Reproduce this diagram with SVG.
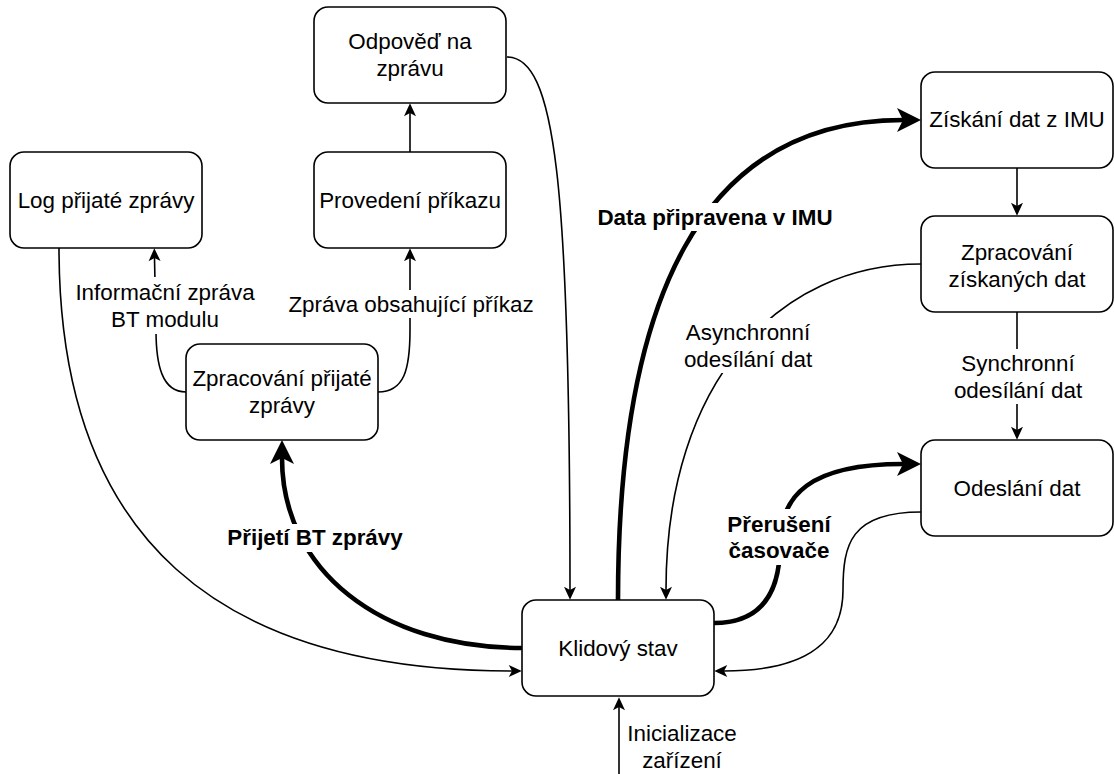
<svg xmlns="http://www.w3.org/2000/svg" width="1114" height="774" viewBox="0 0 1114 774">
  <style>
    .box { fill: #ffffff; stroke: #000000; stroke-width: 1.6; }
    .txt { font-family: "Liberation Sans", Arial, sans-serif; font-size: 22.4px; fill: #000000; text-anchor: middle; }
    .bold { font-weight: bold; }
    .edge { fill: none; stroke: #000000; stroke-width: 1.6; marker-end: url(#arrow); }
    .edge-thick { fill: none; stroke: #000000; stroke-width: 4.6; marker-end: url(#arrowBig); }
    .lbl-bg { fill: #ffffff; stroke: none; }
  </style>
  <defs>
    <marker id="arrow" markerUnits="userSpaceOnUse" orient="auto" refX="3.25" refY="0" markerWidth="14" markerHeight="14" overflow="visible">
      <path d="M0,-6 L13,0 L0,6 L3.25,0 Z" fill="#000000"/>
    </marker>
    <marker id="arrowBig" markerUnits="userSpaceOnUse" orient="auto" refX="6" refY="0" markerWidth="26" markerHeight="26" overflow="visible">
      <path d="M0,-12 L24,0 L0,12 L6,0 Z" fill="#000000"/>
    </marker>
  </defs>

  <rect width="1114" height="774" fill="#ffffff"/>

  <!-- connectors -->
  <g id="connectors">
    <path class="edge" d="M410,152 L410,113"/>
    <path class="edge" d="M378,392 C404,392 410,370 410,330 L410,258"/>
    <path class="edge" d="M186,392 C162,392 156,365 156,330 L154.5,258"/>
    <path class="edge" d="M507,57 C555,57 570,180 570,590"/>
    <path class="edge" d="M59,248 C59,540 220,671 512,671"/>
    <path class="edge" d="M921,264 C780,264 666,380 666,590"/>
    <path class="edge" d="M1017,311 L1017,430"/>
    <path class="edge" d="M1017,167 L1017,206"/>
    <path class="edge" d="M921,512 C850,512 843,545 843,590 C843,640 810,671 724,671"/>
    <path class="edge" d="M619,774 L619,707"/>
    <path class="edge-thick" d="M522,648 C380,648 282,570 282,458"/>
    <path class="edge-thick" d="M618,600 C618,300 700,120 903,120"/>
    <path class="edge-thick" d="M714,623 C760,623 780,595 780,545 C780,495 810,464 903,464"/>

    <!-- edge labels -->
    <rect class="lbl-bg" x="77" y="277" width="177" height="57"/>
    <text class="txt" x="165" y="299.5">Informační zpráva</text>
    <text class="txt" x="165" y="326.5">BT modulu</text>

    <rect class="lbl-bg" x="288" y="290" width="246" height="28"/>
    <text class="txt" x="411" y="312">Zpráva obsahující příkaz</text>

    <rect class="lbl-bg" x="684" y="318" width="128" height="55"/>
    <text class="txt" x="748" y="340">Asynchronní</text>
    <text class="txt" x="748" y="367">odesílání dat</text>

    <rect class="lbl-bg" x="954" y="349" width="128" height="55"/>
    <text class="txt" x="1018" y="371">Synchronní</text>
    <text class="txt" x="1018" y="398">odesílání dat</text>

    <rect class="lbl-bg" x="597" y="203" width="237" height="28"/>
    <text class="txt bold" x="715" y="225">Data připravena v IMU</text>

    <rect class="lbl-bg" x="226" y="524" width="178" height="28"/>
    <text class="txt bold" x="315" y="545">Přijetí BT zprávy</text>

    <rect class="lbl-bg" x="725" y="509" width="108" height="56"/>
    <text class="txt bold" x="779" y="531.5">Přerušení</text>
    <text class="txt bold" x="779" y="558">časovače</text>

    <text class="txt" x="682" y="741">Inicializace</text>
    <text class="txt" x="682" y="768">zařízení</text>
  </g>

  <!-- nodes -->
  <g id="log-prijate-zpravy">
    <rect class="box" x="10" y="152" width="192" height="96" rx="14"/>
    <text class="txt" x="106" y="207.5">Log přijaté zprávy</text>
  </g>
  <g id="odpoved-na-zpravu">
    <rect class="box" x="314" y="7" width="192" height="96" rx="14"/>
    <text class="txt" x="410" y="49">Odpověď na</text>
    <text class="txt" x="410" y="76">zprávu</text>
  </g>
  <g id="provedeni-prikazu">
    <rect class="box" x="314" y="152" width="192" height="96" rx="14"/>
    <text class="txt" x="410" y="207.5">Provedení příkazu</text>
  </g>
  <g id="zpracovani-prijate-zpravy">
    <rect class="box" x="186" y="344" width="192" height="96" rx="14"/>
    <text class="txt" x="282" y="386">Zpracování přijaté</text>
    <text class="txt" x="282" y="413">zprávy</text>
  </g>
  <g id="klidovy-stav">
    <rect class="box" x="522" y="600" width="192" height="96" rx="14"/>
    <text class="txt" x="618" y="656">Klidový stav</text>
  </g>
  <g id="ziskani-dat">
    <rect class="box" x="921" y="72" width="192" height="96" rx="14"/>
    <text class="txt" x="1017" y="127">Získání dat z IMU</text>
  </g>
  <g id="zpracovani-ziskanych-dat">
    <rect class="box" x="921" y="216" width="192" height="96" rx="14"/>
    <text class="txt" x="1017" y="259.5">Zpracování</text>
    <text class="txt" x="1017" y="286.5">získaných dat</text>
  </g>
  <g id="odeslani-dat">
    <rect class="box" x="921" y="440" width="192" height="96" rx="14"/>
    <text class="txt" x="1017" y="495.5">Odeslání dat</text>
  </g>
</svg>
